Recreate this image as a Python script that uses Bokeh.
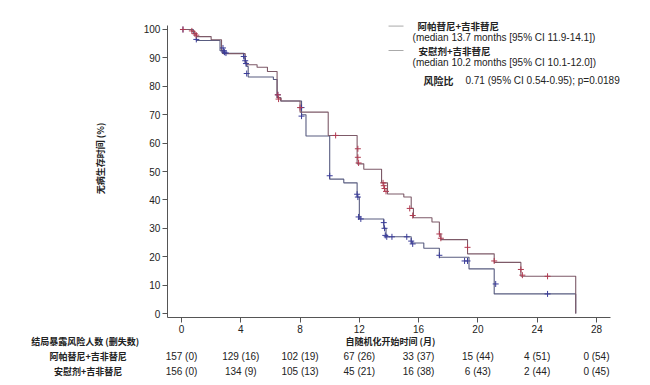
from bokeh.plotting import figure
from bokeh.models import Label, LabelSet, ColumnDataSource, Range1d, FixedTicker
from bokeh.core.properties import value
from bokeh.embed import file_html
from bokeh.resources import INLINE
import math

# ---- data ----
red_t = [0, 0.7, 0.9, 1.0, 2.0, 2.7, 2.8, 4.3, 4.4, 5.1, 5.8, 6.45, 6.7, 8.0, 9.9, 11.85, 12.3, 13.5, 13.9, 15.0, 15.5, 15.65, 16.9, 17.4, 17.5, 19.3, 21.1, 22.9, 26.6]
red_s = [100, 99.3, 98.5, 97.5, 96.4, 92.5, 91.5, 88.5, 87.6, 86.7, 85.2, 76.0, 74.8, 70.9, 62.7, 52.7, 50.8, 46.0, 42.1, 41.0, 37.0, 33.7, 32.2, 28.0, 26.0, 21.0, 18.0, 13.1, 0]
blue_t = [0, 0.8, 1.0, 2.6, 2.75, 4.2, 4.3, 4.4, 4.5, 6.2, 6.45, 6.7, 8.1, 8.4, 10.0, 10.95, 11.85, 12.0, 13.65, 13.8, 15.5, 16.35, 17.4, 19.4, 21.1, 26.6]
blue_s = [100, 98.5, 96.1, 92.5, 91.6, 90.0, 88.0, 87.0, 83.3, 82.4, 76.0, 74.8, 70.0, 62.5, 47.3, 46.0, 41.0, 33.3, 30.0, 27.0, 24.8, 23.0, 19.8, 15.7, 6.9, 0]

red_cens_t = [0.1, 0.7, 0.9, 1.0, 6.5, 6.55, 8.0, 10.4, 11.9, 11.9, 11.95, 13.6, 13.65, 13.7, 13.8, 15.4, 15.6, 17.4, 17.5, 19.3, 21.1, 22.9, 23.0, 24.7]
red_cens_s = [100, 99.5, 98.5, 98.0, 77.0, 75.5, 72.5, 62.7, 58.0, 55.0, 53.0, 46.0, 45.0, 44.0, 43.0, 37.0, 34.5, 28.0, 26.5, 23.3, 18.5, 15.5, 13.5, 13.1]
blue_cens_t = [0.1, 1.0, 2.8, 2.85, 2.9, 3.0, 4.2, 4.3, 4.35, 4.4, 6.5, 8.1, 8.1, 10.0, 11.85, 11.9, 11.95, 12.1, 13.65, 13.7, 13.75, 13.85, 14.2, 15.2, 15.5, 15.6, 17.4, 19.1, 19.3, 21.2, 24.7]
blue_cens_s = [100, 96.5, 93.5, 92.5, 92.0, 91.7, 90.5, 89.0, 88.0, 84.5, 77.0, 72.5, 69.5, 48.5, 42.0, 41.0, 34.0, 33.3, 32.0, 30.0, 27.5, 27.0, 27.0, 27.0, 25.5, 24.5, 20.5, 18.5, 18.5, 10.4, 6.9]

x_ticks = [0, 4, 8, 12, 16, 20, 24, 28]
y_ticks = [0, 10, 20, 30, 40, 50, 60, 70, 80, 90, 100]
risk_red = ["157 (0)", "129 (16)", "102 (19)", "67 (26)", "33 (37)", "15 (44)", "4 (51)", "0 (54)"]
risk_blue = ["156 (0)", "134 (9)", "105 (13)", "45 (21)", "16 (38)", "6 (43)", "2 (44)", "0 (45)"]

name_red = "阿帕替尼+吉非替尼"
name_blue = "安慰剂+吉非替尼"
median_red = "(median 13.7 months [95% CI 11.9-14.1])"
median_blue = "(median 10.2 months [95% CI 10.1-12.0])"
hr_label = "风险比"
hr_text = "0.71 (95% CI 0.54-0.95); p=0.0189"
y_label = "无病生存时间 (%)"
x_label = "自随机化开始时间 (月)"
risk_header = "结局暴露风险人数 (删失数)"

CJK = "Noto Sans CJK SC"
LAT = "Liberation Sans"
RED_LINE = "#7d5a68"
BLUE_LINE = "#585c80"
RED_MK = "#b03a50"
BLUE_MK = "#3a3c98"

# frame spans the full canvas; axes are pinned at fixed data locations
X0, X1 = -0.95, 28.95
Y0, Y1 = -1.5, 101.4
p = figure(width=650, height=385, output_backend="svg", toolbar_location=None,
           x_range=Range1d(-12.213, 31.646), y_range=Range1d(-25.35, 110.21),
           min_border=0)
p.outline_line_color = None
p.xgrid.visible = False
p.ygrid.visible = False
p.background_fill_color = "white"

p.xaxis[0].fixed_location = Y0
p.xaxis[0].bounds = (X0, X1)
p.yaxis[0].fixed_location = X0
p.yaxis[0].bounds = (Y0, Y1)

for ax, ticks in ((p.xaxis[0], x_ticks), (p.yaxis[0], y_ticks)):
    ax.ticker = FixedTicker(ticks=ticks)
    ax.axis_line_color = "#555555"
    ax.major_tick_line_color = "#555555"
    ax.major_tick_out = 5
    ax.major_tick_in = 0
    ax.minor_tick_line_color = None
    ax.major_label_text_font = LAT
    ax.major_label_text_font_size = "10px"
    ax.major_label_text_color = "#222222"
    ax.major_label_standoff = 2

p.step(blue_t, blue_s, mode="after", line_color=BLUE_LINE, line_width=1.1)
p.step(red_t, red_s, mode="after", line_color=RED_LINE, line_width=1.1)
p.scatter(blue_cens_t, blue_cens_s, marker="cross", size=6, line_color=BLUE_MK, line_width=1)
p.scatter(red_cens_t, red_cens_s, marker="cross", size=6, line_color=RED_MK, line_width=1)

# legend
p.line([13.97, 14.98], [101.2, 101.2], line_color="#aaaaaa", line_width=1)
p.line([13.97, 14.98], [92.6, 92.6], line_color="#aaaaaa", line_width=1)

def lab(x, y, text, font=LAT, size="10px", style="normal", align="left", angle=0, color="#222222"):
    p.add_layout(Label(x=x, y=y, text=text, text_font=font, text_font_size=size,
                       text_font_style=style, text_align=align, text_baseline="middle",
                       angle=angle, text_color=color))

lab(15.92, 101.3, name_red, font=CJK, size="9.5px", style="bold")
lab(15.59, 97.2, median_red)
lab(15.99, 92.6, name_blue, font=CJK, size="9.5px", style="bold")
lab(15.59, 88.5, median_blue)
lab(16.33, 82.0, hr_label, font=CJK, size="10px", style="bold")
lab(19.16, 82.0, hr_text)

# axis labels
lab(-5.47, 54.6, y_label, font=CJK, size="9px", style="bold", align="center", angle=math.pi / 2)
lab(14.1, -9.86, x_label, font=CJK, size="9px", style="bold", align="center")
lab(-6.5, -9.86, risk_header, font=CJK, size="9px", style="bold", align="center")
lab(-6.3, -15.14, name_red, font=CJK, size="9px", style="bold", align="center")
lab(-6.3, -20.42, name_blue, font=CJK, size="9px", style="bold", align="center")

src = ColumnDataSource(dict(x=x_ticks + x_ticks, y=[-15.14] * len(x_ticks) + [-20.42] * len(x_ticks),
                            t=risk_red + risk_blue))
p.add_layout(LabelSet(x="x", y="y", text="t", source=src, text_font=value(LAT), text_font_size=value("10px"),
                      text_align="center", text_baseline="middle", text_color="#222222"))

open("out.html", "w").write(file_html(p, INLINE))
